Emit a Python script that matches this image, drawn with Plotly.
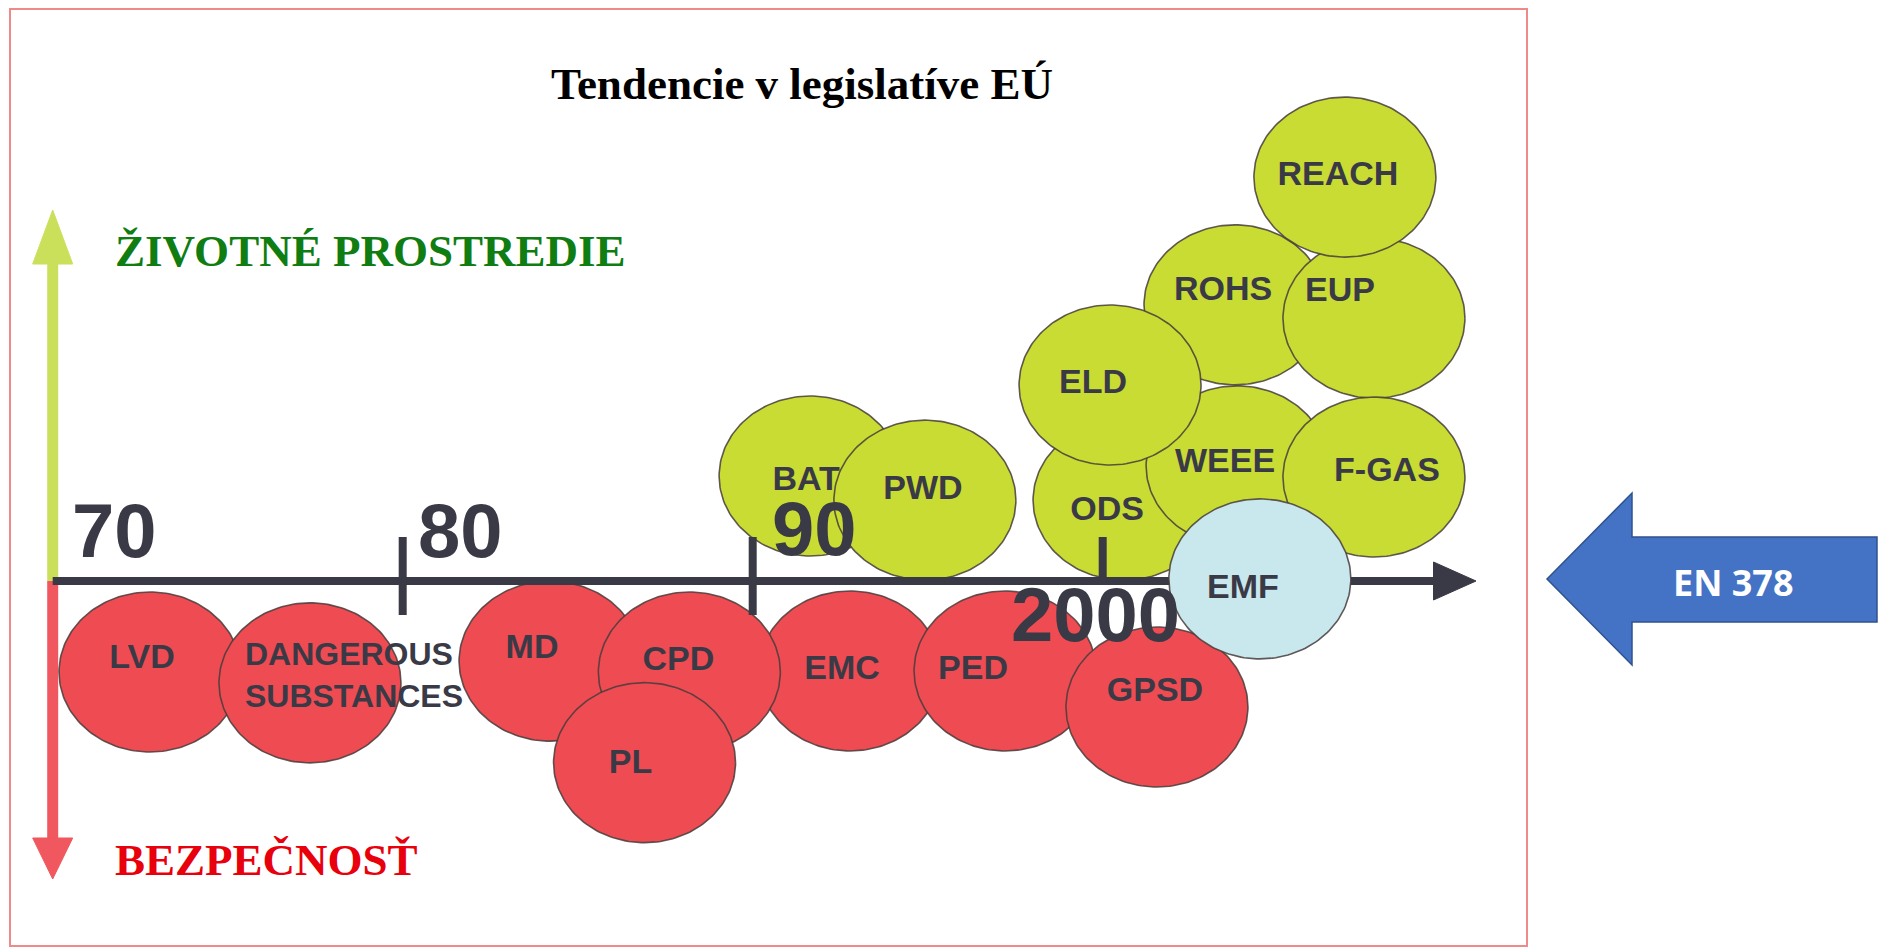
import numpy as np
import plotly.graph_objects as go

# ---------------- data ----------------
TITLE = "Tendencie v legislatíve EÚ"
UP_LABEL = "ŽIVOTNÉ PROSTREDIE"
DOWN_LABEL = "BEZPEČNOSŤ"
CALLOUT = "EN 378"

tick_years = [1970, 1980, 1990, 2000]
tick_labels = ["70", "80", "90", "2000"]

# Safety directives (red), drawing order; year on the time line, level below axis (-)
safety_labels = ["LVD", "DANGEROUS<br>SUBSTANCES", "MD", "EMC", "CPD", "PL", "PED", "GPSD"]
safety_year = [1972.78, 1977.35, 1984.21, 1992.78, 1988.19, 1986.91, 1997.21, 2001.55]
safety_level = [-2.60, -2.91, -2.29, -2.57, -2.60, -5.19, -2.57, -3.60]

# Environmental directives (green), drawing order; level above axis (+)
env_labels = ["BAT", "PWD", "ODS", "WEEE", "ROHS", "ELD", "EUP", "REACH", "F-GAS"]
env_year = [1991.64, 1994.92, 2000.61, 2003.84, 2003.78, 2000.21, 2007.75, 2006.92, 2007.75]
env_level = [3.00, 2.31, 2.31, 3.29, 7.89, 5.60, 7.51, 11.54, 2.97]

# Directive lying on the axis (light blue)
emf_labels = ["EMF"]
emf_year = [2004.49]
emf_level = [0.06]

# ---------------- layout / style constants ----------------
W, H = 1883, 950
PX_PER_UNIT = 35.0          # pixels per year and per level
ORIGIN_PX_X = 52.7          # pixel x of 1970
AXIS_PX_Y = 581.0           # pixel y of time axis
RX = 91.0 / PX_PER_UNIT     # ellipse half-width  (years)
RY = 80.0 / PX_PER_UNIT     # ellipse half-height (levels)
TEXT_DROP = 4               # global downward nudge of bubble labels (px)

RED = "#EE4C52"
GREEN = "#C9DC34"
LIGHTBLUE = "#C9E8EE"
OUTLINE = "rgba(70,60,60,0.85)"
DARK = "#3A3A47"
LABEL_FONT = "Liberation Sans, Arial, sans-serif"
SERIF = "Liberation Serif, Times New Roman, serif"

# label offsets from ellipse centre, in pixels (dx right, dy down)
LABEL_SHIFT = {
    "LVD": (-8, -17), "MD": (-18, -16), "EMC": (-8, -4), "CPD": (-11, -15),
    "PL": (-14, -2), "PED": (-32, -4), "GPSD": (-2, -19), "BAT": (-4, 1),
    "PWD": (-2, -14), "ODS": (-17, 7), "WEEE": (-12, -6), "ROHS": (-12, -17),
    "ELD": (-17, -5), "EUP": (-34, -30), "REACH": (-7, -5), "F-GAS": (13, -9),
    "EMF": (-17, 7), "DANGEROUS<br>SUBSTANCES": (-65, -9),
}


def ellipse(cx, cy, n=181):
    t = np.linspace(0, 2 * np.pi, n)
    return cx + RX * np.cos(t), cy + RY * np.sin(t)


fig = go.Figure()


def add_bubbles(labels, years, levels, fill):
    for lab, yr, lv in zip(labels, years, levels):
        ex, ey = ellipse(yr, lv)
        fig.add_trace(go.Scatter(x=ex, y=ey, mode="lines", fill="toself",
                                 fillcolor=fill, line=dict(color=OUTLINE, width=1.6),
                                 hoverinfo="skip", showlegend=False))
        dx, dy = LABEL_SHIFT.get(lab, (0, 0))
        dy += TEXT_DROP
        multi = "<br>" in lab
        fig.add_trace(go.Scatter(
            x=[yr + dx / PX_PER_UNIT], y=[lv - dy / PX_PER_UNIT], mode="text",
            text=["<b>" + lab + "</b>"],
            textposition="middle right" if multi else "middle center",
            textfont=dict(family=LABEL_FONT, size=32 if multi else 34, color=DARK),
            hoverinfo="skip", showlegend=False))


def to_level(py):
    return (AXIS_PX_Y - py) / PX_PER_UNIT


def seg(x0, y0, x1, y1, color, width):
    fig.add_trace(go.Scatter(x=[x0, x1], y=[y0, y1], mode="lines",
                             line=dict(color=color, width=width),
                             hoverinfo="skip", showlegend=False))


def tri(xs, ys, color):
    fig.add_trace(go.Scatter(x=xs, y=ys, mode="lines", fill="toself",
                             fillcolor=color, line=dict(color=color, width=1),
                             hoverinfo="skip", showlegend=False))


x0 = tick_years[0]
# vertical arrow: environment (up, green) / safety (down, red)
hw = 20 / PX_PER_UNIT
seg(x0, 0, x0, to_level(262), "#CBE05A", 11)
tri([x0 - hw, x0 + hw, x0, x0 - hw], [to_level(264)] * 2 + [to_level(210), to_level(264)], "#CBE05A")
seg(x0, 0, x0, to_level(840), "#F0575F", 11)
tri([x0 - hw, x0 + hw, x0, x0 - hw], [to_level(838)] * 2 + [to_level(879), to_level(838)], "#F0575F")

add_bubbles(safety_labels, safety_year, safety_level, RED)
add_bubbles(env_labels, env_year, env_level, GREEN)

# time axis with arrow head
axis_end = x0 + (1437 - ORIGIN_PX_X) / PX_PER_UNIT
axis_tip = x0 + (1476 - ORIGIN_PX_X) / PX_PER_UNIT
seg(x0, 0, axis_end, 0, DARK, 8)
ah = 19 / PX_PER_UNIT
tri([axis_end - 0.1, axis_end - 0.1, axis_tip, axis_end - 0.1], [ah, -ah, 0, ah], DARK)

add_bubbles(emf_labels, emf_year, emf_level, LIGHTBLUE)

# tick marks (not at the origin)
for yr in tick_years[1:]:
    down = 0 if yr == tick_years[-1] else 34
    seg(yr, 44 / PX_PER_UNIT, yr, -down / PX_PER_UNIT, DARK, 8)

annotations = []
TICK_SHIFT = [(62, 51), (58, 51), (62, 53), (-7, -33)]
for yr, lab, (sx, sy) in zip(tick_years, tick_labels, TICK_SHIFT):
    annotations.append(dict(x=yr, y=0, xref="x", yref="y", text="<b>" + lab + "</b>",
                            showarrow=False, xshift=sx, yshift=sy,
                            xanchor="center", yanchor="middle",
                            font=dict(family=LABEL_FONT, size=76, color=DARK)))


def px(xp):
    return xp / W


def py(yp):
    return 1 - yp / H


annotations += [
    dict(x=px(802), y=py(84), xref="paper", yref="paper", text="<b>" + TITLE + "</b>",
         showarrow=False, xanchor="center", yanchor="middle",
         font=dict(family=SERIF, size=45, color="#000000")),
    dict(x=px(113), y=py(251), xref="paper", yref="paper", text="<b>" + UP_LABEL + "</b>",
         showarrow=False, xanchor="left", yanchor="middle",
         font=dict(family=SERIF, size=45, color="#0F7D12")),
    dict(x=px(113), y=py(860), xref="paper", yref="paper", text="<b>" + DOWN_LABEL + "</b>",
         showarrow=False, xanchor="left", yanchor="middle",
         font=dict(family=SERIF, size=45, color="#E8000C")),
    dict(x=px(1733), y=py(582), xref="paper", yref="paper", text="<b>" + CALLOUT + "</b>",
         showarrow=False, xanchor="center", yanchor="middle",
         font=dict(family="Open Sans, sans-serif", size=36, color="#FFFFFF")),
]

# block arrow pointing left, EN 378 callout
pts = [(1547, 579), (1632, 493), (1632, 537), (1877, 537), (1877, 622),
       (1632, 622), (1632, 665)]
path = "M " + " L ".join(f"{px(a):.5f},{py(b):.5f}" for a, b in pts) + " Z"

shapes = [
    dict(type="rect", xref="paper", yref="paper", x0=px(10), x1=px(1527),
         y0=py(946), y1=py(9), line=dict(color="#EE8A8A", width=2), layer="below"),
    dict(type="path", xref="paper", yref="paper", path=path,
         fillcolor="#4472C4", line=dict(color="#2F528F", width=1.5)),
]

fig.update_layout(
    width=W, height=H, margin=dict(l=0, r=0, t=0, b=0),
    paper_bgcolor="white", plot_bgcolor="white", showlegend=False,
    xaxis=dict(range=[x0 - ORIGIN_PX_X / PX_PER_UNIT, x0 + (W - ORIGIN_PX_X) / PX_PER_UNIT],
               visible=False, fixedrange=True),
    yaxis=dict(range=[to_level(H), to_level(0)], visible=False, fixedrange=True),
    annotations=annotations, shapes=shapes,
)

fig.write_html("out.html", config={"displayModeBar": False},
               post_script="document.body.style.margin='0';document.body.style.overflow='hidden';")
